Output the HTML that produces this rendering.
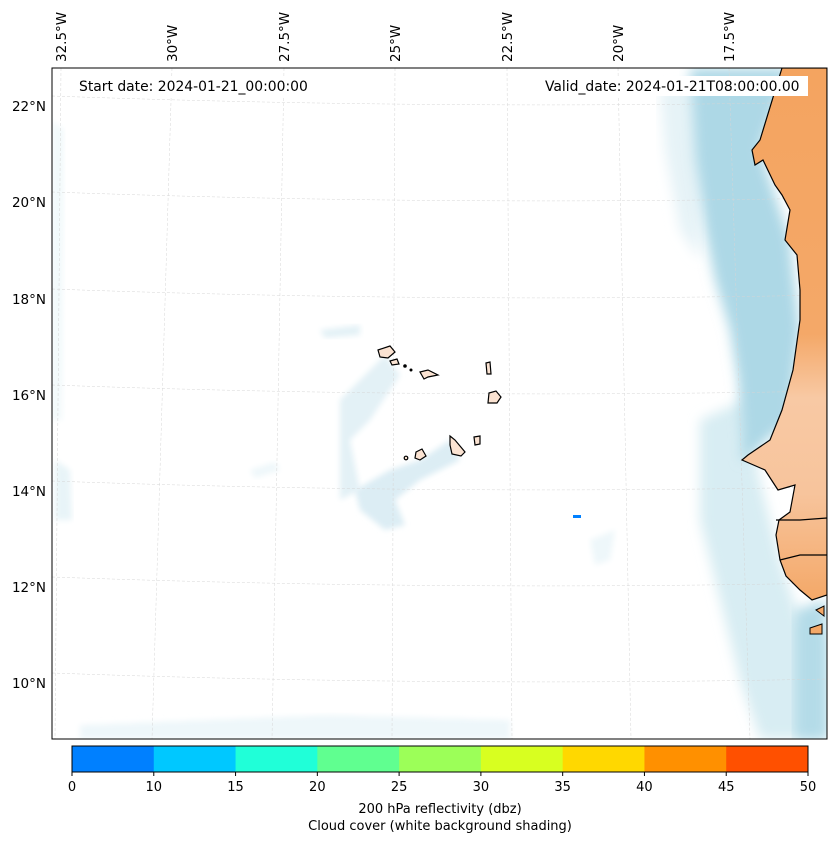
<!DOCTYPE html>
<html><head><meta charset="utf-8"><style>
body{margin:0;background:#fff;}
svg{display:block;font-family:"DejaVu Sans","Liberation Sans",sans-serif;}
</style></head><body>
<svg id="fig" width="837" height="843" viewBox="0 0 837 843">
<defs>
<filter id="blur6"><feGaussianBlur stdDeviation="6"/></filter>
<filter id="blur3"><feGaussianBlur stdDeviation="3"/></filter>
<linearGradient id="landg" x1="0" y1="0" x2="0" y2="1">
<stop offset="0" stop-color="#f4a460"/><stop offset="0.5" stop-color="#f4a868"/><stop offset="0.62" stop-color="#f8c9a4"/><stop offset="0.8" stop-color="#f7c49c"/><stop offset="1" stop-color="#f4a868"/></linearGradient>
<clipPath id="mapclip"><rect x="52" y="68" width="775" height="671"/></clipPath>
</defs>
<g clip-path="url(#mapclip)">
<rect x="52" y="68" width="775" height="671" fill="#fff"/>
<g>
<path d="M660,90 L700,80 L700,260 L680,230 L665,150 Z" fill="#e6f3f7" filter="url(#blur6)"/>
<path d="M700,420 L745,400 L760,480 L780,560 L800,620 L827,640 L827,739 L760,739 L740,680 L720,600 L700,520 Z" fill="#d8edf3" filter="url(#blur6)"/>
<path d="M795,610 L827,600 L827,739 L795,739 Z" fill="#b4dbe8" filter="url(#blur6)"/>
<path d="M690,68 L790,68 L760,150 L790,240 L800,330 L790,420 L742,462 L742,440 L738,380 L730,330 L715,280 L705,230 L695,160 Z" fill="#add8e6" filter="url(#blur6)"/>
<path d="M340,400 L385,355 L400,375 L370,420 L350,440 L360,490 L340,500 Z" fill="#e3f1f6" filter="url(#blur3)"/>
<path d="M355,490 L390,470 L420,460 L450,440 L460,460 L420,480 L395,500 L405,525 L385,530 L360,510 Z" fill="#dcedf4" filter="url(#blur3)"/>
<path d="M320,330 L360,325 L360,335 L325,338 Z" fill="#e3f1f6" filter="url(#blur3)"/>
<path d="M80,725 L330,715 L510,720 L510,739 L80,739 Z" fill="#eef7fa" filter="url(#blur3)"/>
<path d="M52,120 L64,130 L62,420 L52,420 Z" fill="#f2f9fb" filter="url(#blur3)"/>
<path d="M55,460 L70,470 L72,520 L55,520 Z" fill="#e8f4f8" filter="url(#blur3)"/>
<path d="M590,540 L615,530 L610,560 L595,565 Z" fill="#eef7fa" filter="url(#blur3)"/>
<path d="M250,470 L275,462 L280,470 L255,478 Z" fill="#eef7fa" filter="url(#blur3)"/>
</g>
<g id="grid" stroke="#d6d6d6" stroke-width="0.5" stroke-dasharray="3,2" fill="none"></g>
<g>
<path d="M782,68 L827,68 L827,595 L812,600 L800,590 L786,576 L780,560 L776,535 L779,520 L790,512 L795,485 L778,490 L765,470 L742,460 L748,455 L770,440 L782,410 L793,370 L800,320 L800,290 L797,255 L785,240 L790,210 L782,195 L775,185 L763,160 L755,165 L752,150 L760,140 Z" fill="url(#landg)" stroke="#000" stroke-width="1.2"/>
<path d="M776,520 L800,520 L827,518" fill="none" stroke="#000" stroke-width="1.2"/>
<path d="M780,560 L800,555 L827,555" fill="none" stroke="#000" stroke-width="1.2"/>
<path d="M810,628 L822,624 L822,634 L810,634 Z M816,610 L824,606 L824,616 Z" fill="#f4a868" stroke="#000" stroke-width="1"/>
</g>
<g fill="#fbe3d2" stroke="#000" stroke-width="1.2">
<path d="M378,350 L390,346 L395,352 L388,358 L380,357 Z"/>
<path d="M390,361 L397,359 L399,364 L392,365 Z"/>
<path d="M420,372 L428,370 L438,375 L428,377 L424,379 Z"/>
<path d="M486,363 L490,362 L491,374 L487,374 Z"/>
<path d="M489,393 L496,391 L501,397 L497,403 L488,403 Z"/>
<path d="M450,436 L455,440 L465,452 L461,456 L452,454 L450,445 Z"/>
<path d="M474,437 L480,436 L480,444 L475,445 Z"/>
<path d="M416,452 L422,449 L426,456 L420,460 L415,458 Z"/>
<circle cx="406" cy="458" r="1.8"/>
<circle cx="405" cy="366" r="1.2" fill="#000"/><circle cx="411" cy="370" r="0.9" fill="#000"/>
</g>
<rect x="573" y="515" width="8" height="3" fill="#0080ff"/>
<rect x="70" y="76" width="245" height="20" fill="#fff"/>
<text x="79" y="91" font-size="13.9">Start date: 2024-01-21_00:00:00</text>
<rect x="538" y="76" width="270" height="20" fill="#fff"/>
<text x="545" y="91" font-size="13.9">Valid_date: 2024-01-21T08:00:00.00</text>
</g>
<rect x="52" y="68" width="775" height="671" fill="none" stroke="#000" stroke-width="1"/>
<g id="latlabels" font-size="13.5" text-anchor="end"></g>
<g id="lonlabels" font-size="13.5"></g>
<g id="cbar"></g>
<text x="440" y="813" font-size="13" text-anchor="middle">200 hPa reflectivity (dbz)</text>
<text x="440" y="830" font-size="13" text-anchor="middle">Cloud cover (white background shading)</text>
</svg>
<script>
const latValues=[22,20,18,16,14,12,10];
const latLabelY=[106,202,299,395,491,587,683];
const lonValues=[32.5,30,27.5,25,22.5,20,17.5];
const lonTopX=[61,172,284,395,507,618,729];
const lonBottomX=[55,152,272,392,512,631,750];
const cbarBounds=[0,10,15,20,25,30,35,40,45,50];
const cbarColors=['#0080ff','#00c8ff','#20ffd8','#60ff90','#9cff58','#d8ff20','#ffd800','#ff9000','#ff5000'];
const NS='http://www.w3.org/2000/svg';
function mk(t,a,p){const e=document.createElementNS(NS,t);for(const k in a)e.setAttribute(k,a[k]);p.appendChild(e);return e;}
const grid=document.getElementById('grid');
latValues.forEach((v,i)=>{const y=latLabelY[i]-10;
 const p=mk('path',{d:`M52,${y} Q440,${y+14} 827,${y+6}`},grid);
 
 
 const t=mk('text',{x:46,y:latLabelY[i]+5},document.getElementById('latlabels'));
 t.textContent=v+'°N';
 
 });
lonValues.forEach((v,i)=>{
 const l=mk('line',{x1:lonTopX[i],y1:68,x2:lonBottomX[i],y2:739},grid);
 
 
 const t=mk('text',{x:0,y:0,transform:`translate(${lonTopX[i]+5},62) rotate(-90)`},document.getElementById('lonlabels'));
 t.textContent=v+'°W';
 
 });
const cb=document.getElementById('cbar');const x0=72,x1=808,y0=746,h=26;
const n=cbarColors.length,w=(x1-x0)/n;
cbarColors.forEach((c,i)=>{const r=mk('rect',{x:x0+i*w,y:y0,width:w+0.5,height:h,fill:c},cb);
 
 });
mk('rect',{x:x0,y:y0,width:x1-x0,height:h,fill:'none',stroke:'#000','stroke-width':1},cb);
cbarBounds.forEach((b,i)=>{const x=x0+i*w;mk('line',{x1:x,y1:y0+h,x2:x,y2:y0+h+4,stroke:'#000'},cb);
 const t=mk('text',{x:x,y:y0+h+19,'font-size':13,'text-anchor':'middle'},cb);t.textContent=b;
 
 });
</script>
</body></html>
